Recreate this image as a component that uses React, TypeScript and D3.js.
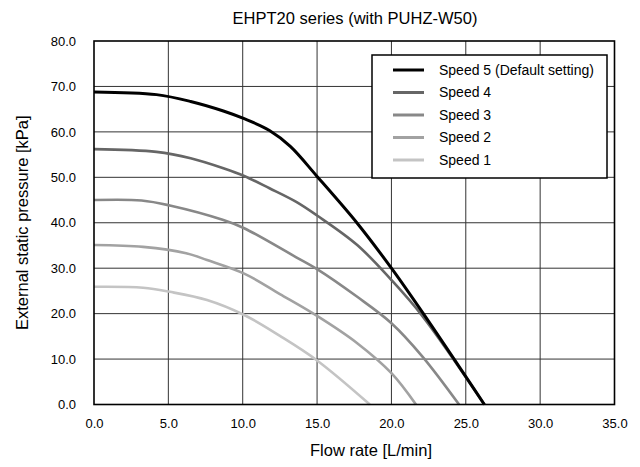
import * as d3 from "d3";
import { useEffect, useRef } from "react";

type Pt = [number, number];

// flow rate [L/min], pressure [kPa]
const speed5: Pt[] = [[0, 68.8], [4.2, 68.2], [6.5, 66.7], [8.7, 64.6], [10.1, 62.9], [11.8, 60.3], [13.2, 56.8], [15, 50.2], [17.7, 39.9], [20, 30.0], [22.1, 20.2], [26.25, 0]];
const speed4: Pt[] = [[0, 56.2], [4.2, 55.6], [6.5, 54.2], [8.7, 52.0], [10.1, 50.3], [11.8, 47.6], [13.6, 44.6], [15, 41.6], [17.7, 35.1], [20, 27.4], [22.1, 19.4], [26.25, 0]];
const speed3: Pt[] = [[0, 45.0], [3.2, 44.9], [5.1, 43.8], [8.7, 40.6], [10.1, 38.8], [13.6, 32.4], [15, 29.8], [17.7, 23.7], [20, 17.9], [22.1, 10.5], [24.55, 0]];
const speed2: Pt[] = [[0, 35.1], [3.3, 34.7], [6.2, 33.3], [7.6, 31.8], [10.1, 28.8], [12.5, 24.3], [15, 19.5], [17.7, 13.5], [20, 6.9], [21.65, 0]];
const speed1: Pt[] = [[0, 25.9], [3.3, 25.7], [5.1, 24.8], [7.6, 23.0], [10.1, 19.7], [12.5, 15.1], [15, 9.7], [18.55, 0]];

const seriesNames = ["Speed 5 (Default setting)", "Speed 4", "Speed 3", "Speed 2", "Speed 1"];
const seriesData = [speed5, speed4, speed3, speed2, speed1];
const seriesColors = ["#000000", "#666666", "#888888", "#a2a2a2", "#c4c4c4"];

const xTicks = [0, 5, 10, 15, 20, 25, 30, 35];
const yTicks = [0, 10, 20, 30, 40, 50, 60, 70, 80];

export default function App() {
  const svgRef = useRef<SVGSVGElement>(null);
  const width = 640;
  const height = 467;
  const margin = { top: 41, right: 25.5, bottom: 62.5, left: 94 };

  useEffect(() => {
    const svg = d3.select(svgRef.current);
    svg.selectAll("*").remove();
    const innerW = width - margin.left - margin.right;
    const innerH = height - margin.top - margin.bottom;
    const font = "Liberation Sans, Arial, sans-serif";

    const x = d3.scaleLinear().domain([0, 35]).range([0, innerW]);
    const y = d3.scaleLinear().domain([0, 80]).range([innerH, 0]);

    const g = svg.append("g").attr("transform", `translate(${margin.left},${margin.top})`);

    // grid
    g.append("g")
      .selectAll("line")
      .data(xTicks.slice(1, -1))
      .join("line")
      .attr("x1", (d) => x(d)).attr("x2", (d) => x(d))
      .attr("y1", 0).attr("y2", innerH)
      .attr("stroke", "#333").attr("stroke-width", 1);
    g.append("g")
      .selectAll("line")
      .data(yTicks.slice(1, -1))
      .join("line")
      .attr("y1", (d) => y(d)).attr("y2", (d) => y(d))
      .attr("x1", 0).attr("x2", innerW)
      .attr("stroke", "#333").attr("stroke-width", 1);

    // axes (labels only, frame drawn separately)
    const gx = g.append("g")
      .attr("transform", `translate(0,${innerH})`)
      .call(d3.axisBottom(x).tickValues(xTicks).tickSize(0).tickPadding(14).tickFormat(d3.format(".1f")));
    const gy = g.append("g")
      .call(d3.axisLeft(y).tickValues(yTicks).tickSize(0).tickPadding(18).tickFormat(d3.format(".1f")));
    for (const a of [gx, gy]) {
      a.select(".domain").remove();
      a.selectAll("text").attr("font-family", font).attr("font-size", 13).attr("fill", "#000");
    }

    // curves (smoothed like the spreadsheet original)
    const line = d3.line<Pt>()
      .x((d) => x(d[0]))
      .y((d) => y(d[1]))
      .curve(d3.curveCatmullRom.alpha(0.5));
    // draw lightest first so speed 5 sits on top
    [...seriesData.keys()].reverse().forEach((i) => {
      g.append("path")
        .datum(seriesData[i])
        .attr("fill", "none")
        .attr("stroke", seriesColors[i])
        .attr("stroke-width", i === 0 ? 3 : 2.6)
        .attr("d", line);
    });

    // frame
    g.append("rect")
      .attr("width", innerW).attr("height", innerH)
      .attr("fill", "none").attr("stroke", "#000").attr("stroke-width", 1.6);

    // legend
    const lg = svg.append("g").attr("transform", "translate(372,55)");
    lg.append("rect")
      .attr("width", 235).attr("height", 123)
      .attr("fill", "#fff").attr("stroke", "#000").attr("stroke-width", 1.5);
    seriesNames.forEach((name, i) => {
      const ly = 15 + i * 22.5;
      lg.append("line")
        .attr("x1", 21).attr("x2", 52).attr("y1", ly).attr("y2", ly)
        .attr("stroke", seriesColors[i]).attr("stroke-width", 3);
      lg.append("text")
        .attr("x", 67).attr("y", ly).attr("dy", "0.35em")
        .attr("font-family", font).attr("font-size", 14)
        .text(name);
    });

    // titles
    svg.append("text")
      .attr("x", 355).attr("y", 24)
      .attr("text-anchor", "middle")
      .attr("font-family", font).attr("font-size", 16.5)
      .text("EHPT20 series (with PUHZ-W50)");
    svg.append("text")
      .attr("x", 371).attr("y", 456)
      .attr("text-anchor", "middle")
      .attr("font-family", font).attr("font-size", 16.5)
      .text("Flow rate [L/min]");
    svg.append("text")
      .attr("transform", `translate(28,${margin.top + innerH / 2}) rotate(-90)`)
      .attr("text-anchor", "middle")
      .attr("font-family", font).attr("font-size", 16.5)
      .text("External static pressure [kPa]");
  }, []);

  return (
    <svg
      ref={svgRef}
      width={width}
      height={height}
      style={{ position: "absolute", left: 0, top: 0, background: "#fff" }}
    />
  );
}
